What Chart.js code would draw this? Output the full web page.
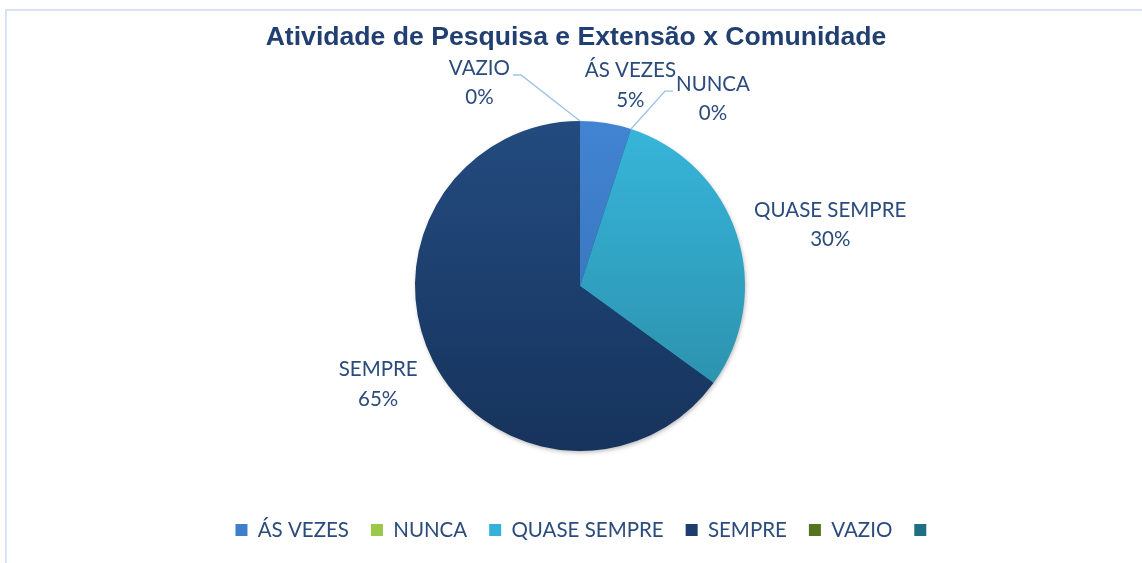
<!DOCTYPE html>
<html><head><meta charset="utf-8">
<script src="https://cdn.jsdelivr.net/npm/chart.js@4"></script>
<style>
html,body{margin:0;padding:0;background:#fff;}
#wrap{position:relative;width:1142px;height:563px;overflow:hidden;background:#fff;}
#frame{position:absolute;left:5px;top:9px;width:1200px;height:600px;border-left:2px solid #dae3f3;border-top:2px solid #dae3f3;}
canvas{position:absolute;left:0;top:0;}
</style></head><body>
<div id="wrap"><div id="frame"></div><canvas id="c" width="1142" height="563"></canvas></div>
<script>
const chartTitle = 'Atividade de Pesquisa e Extensão x Comunidade';
const categories = ['ÁS VEZES', 'NUNCA', 'QUASE SEMPRE', 'SEMPRE', 'VAZIO', ''];
const percentValues = [5, 0, 30, 65, 0, 0];
const legendColors = ['#3f7ecb', '#9bc84a', '#34b1d6', '#1c3d6e', '#56741f', '#1e6f85'];
const gradientTop = ['#4284d2', '#a5d05a', '#37b6db', '#234b7f', '#5f7f24', '#227b92'];
const gradientBottom = ['#336bb0', '#8ab83e', '#2a8aa4', '#16335c', '#4b6a1a', '#1a6276'];

const textColor = '#2b4b7c';
const labelFontSize = 20.5;
const labelFamily = 'Lato';
const lineH = 29.5;
const labelGap = 22;
const leaderSpec = {4: {dx: -59, dy: -46, side: -1}, 1: {dx: 34, dy: -38, side: 1}};
const labelNudge = {0: {dx: 14, dy: 13}, 2: {dx: 0, dy: 6}};

const blockShift = {
  id: 'blockShift',
  afterLayout(chart) {
    if (chart.titleBlock) { chart.titleBlock.left -= 4; chart.titleBlock.right -= 4; }
    if (chart.legend) { chart.legend.left += 6; chart.legend.right += 6; }
  }
};

const pieShadow = {
  id: 'pieShadow',
  beforeDatasetsDraw(chart) {
    const arc = chart.getDatasetMeta(0).data[0];
    if (!arc) return;
    const p = arc.getProps(['x', 'y', 'outerRadius'], true);
    const ctx = chart.ctx;
    ctx.save();
    ctx.shadowColor = 'rgba(0,0,0,0.35)';
    ctx.shadowBlur = 5;
    ctx.shadowOffsetX = 1;
    ctx.shadowOffsetY = 2;
    ctx.fillStyle = '#1c3d6e';
    ctx.beginPath();
    ctx.arc(p.x, p.y, p.outerRadius - 1, 0, Math.PI * 2);
    ctx.fill();
    ctx.restore();
  }
};

const pieLabels = {
  id: 'pieLabels',
  afterDatasetsDraw(chart) {
    const ctx = chart.ctx;
    const meta = chart.getDatasetMeta(0);
    ctx.save();
    ctx.font = labelFontSize + 'px ' + labelFamily;
    ctx.fillStyle = textColor;
    ctx.textBaseline = 'middle';
    ctx.textAlign = 'center';
    meta.data.forEach((arc, i) => {
      const name = categories[i];
      if (!name) return;
      const p = arc.getProps(['x', 'y', 'startAngle', 'endAngle', 'outerRadius'], true);
      const pct = percentValues[i] + '%';
      const w = Math.max(ctx.measureText(name).width, ctx.measureText(pct).width);
      const h = lineH * 2;
      let cx, cy;
      const spec = leaderSpec[i];
      if (spec) {
        const a = p.startAngle;
        const ex = p.x + Math.cos(a) * p.outerRadius, ey = p.y + Math.sin(a) * p.outerRadius;
        const bx = ex + spec.dx, by = ey + spec.dy;
        const tx = bx + spec.side * 8;
        ctx.save();
        ctx.strokeStyle = '#9dc3e6';
        ctx.lineWidth = 1.4;
        ctx.beginPath();
        ctx.moveTo(ex, ey); ctx.lineTo(bx, by); ctx.lineTo(tx, by);
        ctx.stroke();
        ctx.restore();
        cx = tx + spec.side * (w / 2 + 3);
        cy = by - 7 + lineH / 2;
      } else {
        const mid = (p.startAngle + p.endAngle) / 2;
        const c = Math.cos(mid), s = Math.sin(mid);
        const R = p.outerRadius + labelGap;
        cx = p.x + c * R + c * w / 2;
        cy = p.y + s * R + s * h / 2;
        const n = labelNudge[i];
        if (n) { cx += n.dx; cy += n.dy; }
      }
      ctx.fillText(name, cx, cy - lineH / 2);
      ctx.fillText(pct, cx, cy + lineH / 2);
    });
    ctx.restore();
  }
};

const LP = 22;
new Chart(document.getElementById('c'), {
  type: 'pie',
  data: {
    labels: categories,
    datasets: [{
      data: percentValues,
      radius: 165,
      borderWidth: 0,
      backgroundColor: (context) => {
        const chart = context.chart;
        const area = chart.chartArea;
        const i = context.dataIndex;
        if (!area) return legendColors[i];
        const cy = (area.top + area.bottom) / 2;
        const g = chart.ctx.createLinearGradient(0, cy - 165, 0, cy + 165);
        g.addColorStop(0, gradientTop[i]);
        g.addColorStop(1, gradientBottom[i]);
        return g;
      }
    }]
  },
  options: {
    responsive: false,
    animation: false,
    layout: {padding: {left: 18, bottom: 12.75}},
    plugins: {
      tooltip: {enabled: false},
      title: {
        display: true,
        text: chartTitle,
        color: '#213f71',
        font: {family: 'Liberation Sans', size: 26.6, weight: 'bold', lineHeight: 1.2},
        padding: {top: 22, bottom: 20.33}
      },
      legend: {
        display: true,
        position: 'bottom',
        labels: {
          boxWidth: 12,
          boxHeight: 12,
          padding: LP,
          color: textColor,
          font: {family: labelFamily, size: labelFontSize},
          generateLabels: () => categories.map((t, i) => ({
            text: t, fillStyle: legendColors[i], strokeStyle: legendColors[i],
            lineWidth: 0, hidden: false, index: i, fontColor: textColor
          }))
        }
      }
    }
  },
  plugins: [blockShift, pieShadow, pieLabels]
});
</script>
</body></html>
